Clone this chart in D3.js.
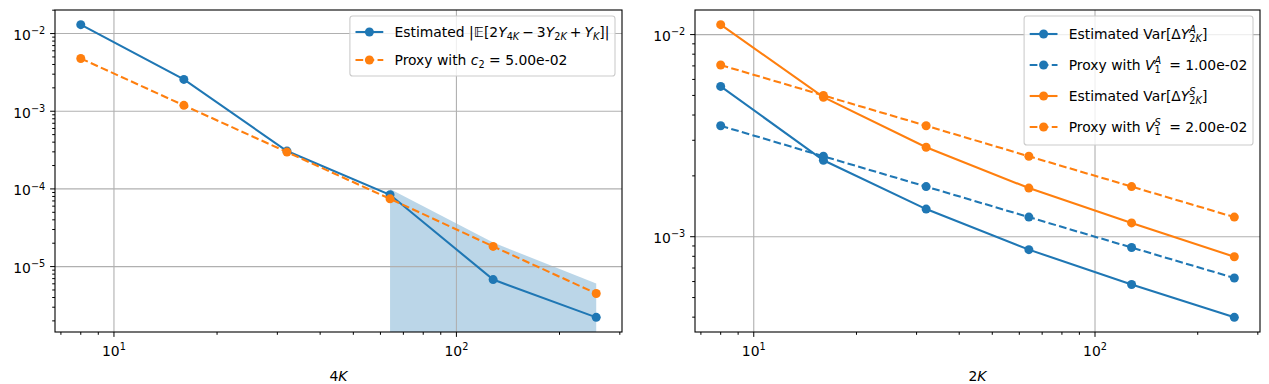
<!DOCTYPE html>
<html><head><meta charset="utf-8">
<script src="https://cdn.jsdelivr.net/npm/d3@7"></script>
<style>body{margin:0;background:#fff} text{font-family:"DejaVu Sans",sans-serif}</style>
</head><body><svg id="c" width="1269" height="384" xmlns="http://www.w3.org/2000/svg"></svg>
<script>
// ---------------- data ----------------
const ks = [8, 16, 32, 64, 128, 256];
const leftEstimated = [0.01303, 0.00257, 0.000307, 0.000084, 0.0000068, 0.00000222];
const leftProxy = [0.00478, 0.00119, 0.000298, 0.0000745, 0.0000182, 0.00000451];
const fillKs = [64, 128, 256];
const fillUpper = [0.000100, 0.0000204, 0.00000605];
const rightEstA = [0.00554, 0.00239, 0.00137, 0.000863, 0.00058, 0.000399];
const rightProxyA = [0.00354, 0.0025, 0.00177, 0.00125, 0.000884, 0.000625];
const rightEstS = [0.0112, 0.0049, 0.00277, 0.00174, 0.00117, 0.000796];
const rightProxyS = [0.00707, 0.005, 0.00354, 0.0025, 0.00177, 0.00125];
const xTickExps = [1, 2];
const leftYTickExps = [-5, -4, -3, -2];
const rightYTickExps = [-3, -2];
const leftXLabel = "4K", rightXLabel = "2K";

const C0 = "#1f77b4", C1 = "#ff7f0e";
const FS = 13.9, LW = 2.08, DASH = "7.7,3.33", MR = 4.5;
const svg = d3.select("#c");
svg.append("rect").attr("width", 1269).attr("height", 384).attr("fill", "#fff");

function rich(sel, x, y, parts, size, anchor) {
  const f = size || FS;
  const t = sel.append("text").attr("x", x).attr("y", y).attr("font-size", f).attr("fill", "#000");
  if (anchor) t.attr("text-anchor", anchor);
  let cur = 0, lastSup = 0;
  parts.forEach(p => {
    const target = p.l === "sup" ? -0.42 * f : p.l === "sub" ? 0.24 * f : 0;
    const ts = t.append("tspan").text(p.t)
      .attr("font-size", p.l ? 0.7 * f : f)
      .attr("font-style", p.i ? "italic" : "normal");
    if (Math.abs(target - cur) > 1e-6) { ts.attr("dy", target - cur); cur = target; }
    let dx = p.dx || 0;
    if (p.back) dx -= lastSup;
    if (dx) ts.attr("dx", dx);
    if (p.l === "sup") lastSup = ts.node().getComputedTextLength();
  });
  return t;
}

function logDomain(vals) {
  const lo = Math.log10(d3.min(vals)), hi = Math.log10(d3.max(vals));
  const m = (hi - lo) * 0.05;
  return [Math.pow(10, lo - m), Math.pow(10, hi + m)];
}

function panel(cfg) {
  const g = svg.append("g");
  const x = d3.scaleLog().domain(logDomain(ks)).range([cfg.x0, cfg.x1]);
  const y = d3.scaleLog().domain(logDomain(cfg.allY)).range([cfg.y1, cfg.y0]);
  const [ylo, yhi] = y.domain(), [xlo, xhi] = x.domain();

  if (cfg.fill) {
    const area = d3.area().x(d => x(d[0])).y0(() => y.range()[0]).y1(d => y(d[1]));
    g.append("path").datum(cfg.fill.k.map((k, i) => [k, cfg.fill.v[i]]))
      .attr("d", area).attr("fill", C0).attr("fill-opacity", 0.3);
  }
  xTickExps.forEach(e => {
    const v = Math.pow(10, e);
    g.append("line").attr("x1", x(v)).attr("x2", x(v)).attr("y1", cfg.y0).attr("y2", cfg.y1)
      .attr("stroke", "#b0b0b0").attr("stroke-width", 1.1);
  });
  cfg.yExps.forEach(e => {
    const v = Math.pow(10, e);
    g.append("line").attr("y1", y(v)).attr("y2", y(v)).attr("x1", cfg.x0).attr("x2", cfg.x1)
      .attr("stroke", "#b0b0b0").attr("stroke-width", 1.1);
  });
  cfg.series.forEach(s => {
    const line = d3.line().x((d, i) => x(ks[i])).y(d => y(d));
    g.append("path").datum(s.v).attr("d", line).attr("fill", "none")
      .attr("stroke", s.c).attr("stroke-width", LW)
      .attr("stroke-dasharray", s.dash ? DASH : null);
    g.selectAll(null).data(s.v).enter().append("circle")
      .attr("cx", (d, i) => x(ks[i])).attr("cy", d => y(d)).attr("r", MR).attr("fill", s.c);
  });
  g.append("rect").attr("x", cfg.x0).attr("y", cfg.y0).attr("width", cfg.x1 - cfg.x0)
    .attr("height", cfg.y1 - cfg.y0).attr("fill", "none").attr("stroke", "#000").attr("stroke-width", 1.1);
  const tk = (x1, y1, x2, y2) => g.append("line").attr("x1", x1).attr("y1", y1).attr("x2", x2).attr("y2", y2)
    .attr("stroke", "#000").attr("stroke-width", 1.0);
  for (let d = Math.floor(Math.log10(xlo)); d <= Math.ceil(Math.log10(xhi)); d++) {
    for (let m = 1; m <= 9; m++) {
      const v = m * Math.pow(10, d);
      if (v < xlo || v > xhi) continue;
      tk(x(v), cfg.y1, x(v), cfg.y1 + (m === 1 ? 4.9 : 2.8));
    }
  }
  for (let d = Math.floor(Math.log10(ylo)); d <= Math.ceil(Math.log10(yhi)); d++) {
    for (let m = 1; m <= 9; m++) {
      const v = m * Math.pow(10, d);
      if (v < ylo || v > yhi) continue;
      tk(cfg.x0, y(v), cfg.x0 - (m === 1 ? 4.9 : 2.8), y(v));
    }
  }
  xTickExps.forEach(e => {
    rich(g, x(Math.pow(10, e)), 356, [{t: "10"}, {t: String(e), l: "sup"}], FS, "middle");
  });
  cfg.yExps.forEach(e => {
    rich(g, cfg.x0 - 9.7, y(Math.pow(10, e)) + 6.5, [{t: "10"}, {t: String(e).replace("-", "\u2212"), l: "sup"}], FS, "end");
  });
  rich(g, (cfg.x0 + cfg.x1) / 2, 381, [{t: cfg.xlabel[0]}, {t: cfg.xlabel.slice(1), i: 1}], FS, "middle");

  const lg = g.append("g");
  const box = lg.append("rect");
  let maxW = 0;
  cfg.legend.forEach((r, i) => {
    const cy = cfg.legRows[i];
    lg.append("line").attr("x1", 0).attr("x2", 27.8).attr("y1", cy).attr("y2", cy)
      .attr("stroke", r.c).attr("stroke-width", LW).attr("stroke-dasharray", r.dash ? DASH : null);
    lg.append("circle").attr("cx", 13.9).attr("cy", cy).attr("r", MR).attr("fill", r.c);
    const t = rich(lg, 39, cy + 5, r.parts);
    maxW = Math.max(maxW, t.node().getBBox().width);
  });
  const bw = 5.6 + 39 + maxW + 5.6;
  box.attr("x", -5.6).attr("y", cfg.legBox[0]).attr("width", bw).attr("height", cfg.legBox[1] - cfg.legBox[0])
    .attr("rx", 2.8).attr("fill", "#fff").attr("fill-opacity", 0.8).attr("stroke", "#cccccc").attr("stroke-width", 1.1);
  lg.attr("transform", `translate(${cfg.x1 - 7 - bw + 5.6},0)`);
}

panel({
  x0: 55, x1: 622, y0: 10, y1: 332,
  allY: leftEstimated.concat(leftProxy),
  yExps: leftYTickExps,
  fill: {k: fillKs, v: fillUpper},
  series: [{v: leftEstimated, c: C0}, {v: leftProxy, c: C1, dash: true}],
  xlabel: leftXLabel,
  legRows: [32, 60], legBox: [16, 76],
  legend: [
    {c: C0, parts: [{t: "Estimated |\uD835\uDD3C[2"}, {t: "Y", i: 1}, {t: "4", l: "sub"}, {t: "K", l: "sub", i: 1},
      {t: "\u2212", dx: 3}, {t: "3", dx: 3}, {t: "Y", i: 1}, {t: "2", l: "sub"}, {t: "K", l: "sub", i: 1},
      {t: "+", dx: 3}, {t: "Y", i: 1, dx: 3}, {t: "K", l: "sub", i: 1}, {t: "]|"}]},
    {c: C1, dash: true, parts: [{t: "Proxy with "}, {t: "c", i: 1}, {t: "2", l: "sub"}, {t: " = 5.00e-02"}]}
  ]
});

panel({
  x0: 695, x1: 1260, y0: 10, y1: 332,
  allY: rightEstA.concat(rightProxyA, rightEstS, rightProxyS),
  yExps: rightYTickExps,
  series: [{v: rightEstA, c: C0}, {v: rightProxyA, c: C0, dash: true},
           {v: rightEstS, c: C1}, {v: rightProxyS, c: C1, dash: true}],
  xlabel: rightXLabel,
  legRows: [34, 65, 96, 127], legBox: [16, 145],
  legend: [
    {c: C0, parts: [{t: "Estimated Var[\u0394"}, {t: "Y", i: 1}, {t: "A", l: "sup", i: 1}, {t: "2", l: "sub", back: 1}, {t: "K", l: "sub", i: 1}, {t: "]"}]},
    {c: C0, dash: true, parts: [{t: "Proxy with "}, {t: "V", i: 1}, {t: "A", l: "sup", i: 1}, {t: "1", l: "sub", back: 1}, {t: " = 1.00e-02", dx: 4}]},
    {c: C1, parts: [{t: "Estimated Var[\u0394"}, {t: "Y", i: 1}, {t: "S", l: "sup", i: 1}, {t: "2", l: "sub", back: 1}, {t: "K", l: "sub", i: 1}, {t: "]"}]},
    {c: C1, dash: true, parts: [{t: "Proxy with "}, {t: "V", i: 1}, {t: "S", l: "sup", i: 1}, {t: "1", l: "sub", back: 1}, {t: " = 2.00e-02", dx: 4}]}
  ]
});
</script></body></html>
